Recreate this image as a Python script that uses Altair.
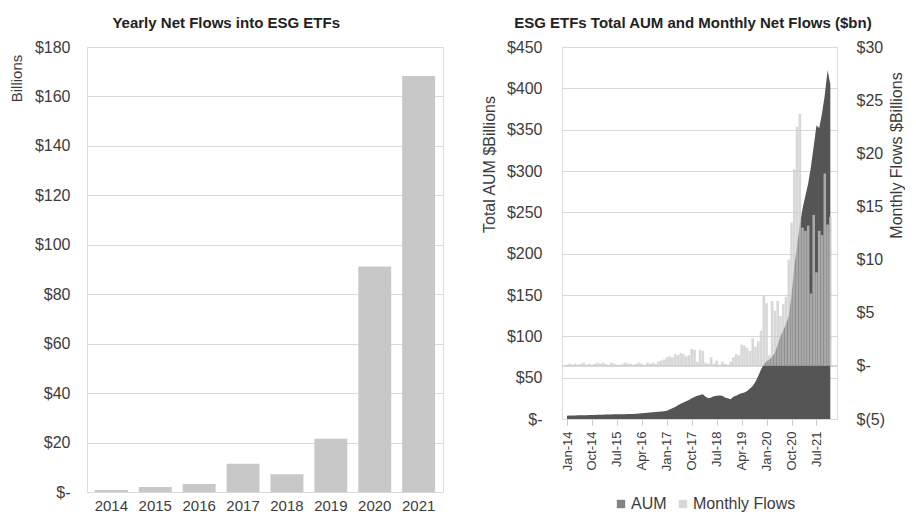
import json
import altair as alt
import pandas as pd

# ---------------- Left panel data ----------------
years = ['2014', '2015', '2016', '2017', '2018', '2019', '2020', '2021']
yearly_flows = [0.8, 2.0, 3.2, 11.4, 7.2, 21.5, 91.2, 168.3]

# ---------------- Right panel data ----------------
month_names = ['Jan', 'Feb', 'Mar', 'Apr', 'May', 'Jun', 'Jul', 'Aug', 'Sep', 'Oct', 'Nov', 'Dec']
months = [f"{m}-{y}" for y in range(14, 22) for m in month_names]

aum = [
    4.0, 4.1, 4.2, 4.3, 4.4, 4.5, 4.6, 4.6, 4.7, 4.8, 4.9, 5.0,          # 2014
    5.1, 5.2, 5.3, 5.4, 5.5, 5.6, 5.7, 5.7, 5.6, 5.8, 5.9, 6.0,          # 2015
    6.2, 6.4, 6.7, 7.0, 7.3, 7.6, 8.0, 8.3, 8.6, 8.8, 9.0, 9.3,          # 2016
    10.0, 11.5, 13.0, 14.5, 16.5, 18.5, 20.0, 21.5, 23.0, 25.0, 26.5, 28.0,  # 2017
    29.0, 30.0, 27.0, 25.0, 26.0, 27.5, 28.0, 28.5, 28.0, 26.0, 25.0, 24.0,  # 2018
    27, 28, 30, 31, 32, 34, 37, 40, 45, 52, 60, 66,                      # 2019
    70, 72, 75, 80, 90, 100, 107, 115, 125, 150, 185, 210,               # 2020
    235, 255, 270, 285, 305, 330, 355, 352, 370, 392, 422, 405,          # 2021
]

monthly_flows = [
    0.1, 0.2, 0.1, 0.2, 0.1, 0.2, 0.3, 0.1, 0.2, 0.1, 0.2, 0.3,          # 2014
    0.2, 0.3, 0.2, 0.1, 0.3, 0.2, 0.1, -0.1, 0.2, 0.3, 0.2, 0.2,         # 2015
    0.1, 0.2, 0.3, 0.2, 0.1, 0.3, 0.2, 0.3, 0.2, 0.4, 0.5, 0.6,          # 2016
    0.8, 0.9, 0.8, 1.1, 1.0, 1.2, 1.1, 0.9, 1.0, 1.6, 1.5, 0.4,          # 2017
    1.5, 1.4, 0.3, 0.2, 0.8, 0.2, 0.5, 0.1, 0.4, 0.2, 0.1, 0.4,          # 2018
    0.8, 1.1, 1.0, 2.0, 1.9, 1.7, 1.4, 2.6, 1.8, 2.3, 3.3, 6.6,          # 2019
    5.9, 1.0, 6.1, 5.2, 6.1, 4.7, 5.8, 6.5, 10.0, 13.5, 18.5, 22.5,      # 2020
    23.7, 13.0, 12.7, 13.2, 6.8, 14.2, 8.8, 12.7, 12.3, 18.1, 13.3, 14.0,  # 2021
]

x_tick_labels = ['Jan-14', 'Oct-14', 'Jul-15', 'Apr-16', 'Jan-17', 'Oct-17',
                 'Jul-18', 'Apr-19', 'Jan-20', 'Oct-20', 'Jul-21']

FONT = 'Liberation Sans'
TXT = '#3c3c3c'
GRID = '#d9d9d9'

# ---------------- Left chart ----------------
left_df = pd.DataFrame({'year': years, 'flow': yearly_flows})
left = alt.Chart(left_df).mark_bar(color='#c8c8c8').encode(
    x=alt.X('year:O', sort=years,
            scale=alt.Scale(paddingInner=0.25, paddingOuter=0.18),
            axis=alt.Axis(title=None, labelAngle=0, labelFontSize=15, ticks=False, tickSize=0,
                          domain=False, labelPadding=6, labelColor=TXT, labelFont=FONT)),
    y=alt.Y('flow:Q', scale=alt.Scale(domain=[0, 180], nice=False),
            axis=alt.Axis(values=list(range(0, 181, 20)),
                          labelExpr="datum.value == 0 ? '$-' : '$' + datum.value",
                          title='Billions', titleFontSize=15, titleFontWeight='normal',
                          titleColor=TXT, titleFont=FONT, titleY=31, titleAlign='center',
                          titlePadding=10,
                          labelFontSize=16, labelColor=TXT, labelFont=FONT, labelPadding=17,
                          ticks=False, tickSize=0, domain=False,
                          grid=True, gridColor=GRID, gridWidth=1.2)),
).properties(
    width=356, height=445,
    title=alt.TitleParams('Yearly Net Flows into ESG ETFs', fontSize=15, fontWeight='bold',
                          font=FONT, color='#222222', anchor='middle', frame='bounds', offset=8),
)

# ---------------- Right chart ----------------
right_df = pd.DataFrame({'i': list(range(len(months))), 'month': months,
                         'AUM': aum, 'Flows': monthly_flows})

label_js = json.dumps(x_tick_labels)
x_enc = alt.X('i:Q', scale=alt.Scale(domain=[0, 95.6], nice=False, zero=False),
              axis=alt.Axis(values=list(range(0, 91, 9)),
                            labelExpr=f"{label_js}[round(datum.value / 9)]",
                            labelAngle=270, labelAlign='right', labelBaseline='middle',
                            labelFontSize=13, labelColor=TXT, labelFont=FONT,
                            labelPadding=6, ticks=True, tickSize=6, tickColor='#cccccc',
                            domain=False, grid=False, title=None))

color_scale = alt.Scale(domain=['AUM', 'Monthly Flows'], range=['#555555', '#c9c9c9'])

rule = alt.Chart(right_df).mark_rule(color=GRID, strokeWidth=1.2).encode(
    y=alt.datum(0, scale=alt.Scale(domain=[-5, 30], nice=False), axis=None),
)

area = alt.Chart(right_df).transform_calculate(series="'AUM'").mark_area(
    interpolate='linear', clip=True
).encode(
    x=x_enc,
    y=alt.Y('AUM:Q', scale=alt.Scale(domain=[0, 450], nice=False),
            axis=alt.Axis(values=list(range(0, 451, 50)),
                          labelExpr="datum.value == 0 ? '$-' : '$' + datum.value",
                          title='Total AUM $Billions', titleFontSize=16, titleFontWeight='normal',
                          titleColor=TXT, titleFont=FONT, titleY=117, titleAlign='center',
                          titlePadding=9,
                          labelFontSize=16, labelColor=TXT, labelFont=FONT, labelPadding=20,
                          ticks=False, tickSize=0, domain=False,
                          grid=True, gridColor=GRID, gridWidth=1.2)),
    color=alt.Color('series:N', scale=color_scale,
                    legend=alt.Legend(title=None, orient='none', direction='horizontal',
                                      legendX=526, legendY=449, symbolType='square',
                                      symbolSize=70, labelFontSize=16, labelFont=FONT,
                                      labelColor=TXT, columnPadding=8, labelOffset=2,
                                      symbolOpacity=1, padding=0)),
)

bars = alt.Chart(right_df).transform_calculate(series="'Monthly Flows'").mark_bar(
    width=2.6, opacity=0.72, clip=True
).encode(
    x=x_enc,
    y=alt.Y('Flows:Q', scale=alt.Scale(domain=[-5, 30], nice=False),
            axis=alt.Axis(orient='right', values=list(range(-5, 31, 5)),
                          labelExpr="datum.value < 0 ? '$(' + abs(datum.value) + ')' : (datum.value == 0 ? '$-' : '$' + datum.value)",
                          title='Monthly Flows $Billions', titleFontSize=16, titleFontWeight='normal',
                          titleColor=TXT, titleFont=FONT, titleAngle=270, titleY=108,
                          titleAlign='center', titleBaseline='top', titlePadding=4,
                          labelFontSize=16, labelColor=TXT, labelFont=FONT, labelPadding=19,
                          ticks=False, tickSize=0, domain=False, grid=False)),
    y2=alt.datum(0),
    color=alt.Color('series:N', scale=color_scale),
)

right = alt.layer(rule, area, bars).resolve_scale(y='independent').properties(
    width=275, height=372,
    title=alt.TitleParams('ESG ETFs Total AUM and Monthly Net Flows ($bn)', fontSize=15,
                          fontWeight='bold', font=FONT, color='#222222', anchor='middle',
                          frame='bounds', offset=8),
)

chart = alt.hconcat(left, right, spacing=36).properties(
    padding={'left': 0, 'top': 7, 'right': 0, 'bottom': 0},
).configure_view(strokeWidth=0, stroke='transparent').configure(background='white')

chart.save('out.html', embed_options={'renderer': 'svg', 'actions': False})
